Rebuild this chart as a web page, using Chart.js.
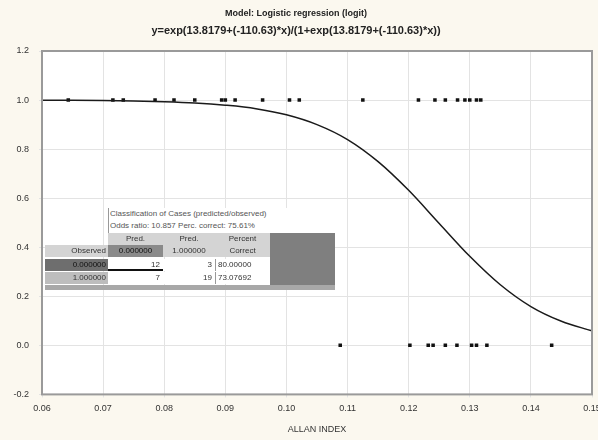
<!DOCTYPE html>
<html>
<head>
<meta charset="utf-8">
<script src="https://cdn.jsdelivr.net/npm/chart.js@4"></script>
<style>
  html, body { margin: 0; padding: 0; background: #fbf8ef; }
  #wrap { position: relative; width: 598px; height: 440px; }
  canvas { position: absolute; left: 0; top: 0; }
  .cls { position: absolute; font-family: "Liberation Sans", Arial, sans-serif; font-size: 8px; color: #333; }
  .cls div { position: absolute; box-sizing: border-box; white-space: nowrap; overflow: hidden; }
</style>
</head>
<body>
<div id="wrap">
  <canvas id="chart" width="598" height="440"></canvas>
  <div class="cls" id="table"></div>
</div>
<script>
// observed cases
const obsOneX = [0.0643, 0.0716, 0.0733, 0.0785, 0.0816, 0.0850, 0.0894, 0.0900, 0.0916, 0.0961,
  0.1005, 0.1021, 0.1125, 0.1216, 0.1243, 0.1260, 0.1280, 0.1292, 0.1300, 0.1311, 0.1318];
const obsZeroX = [0.1088, 0.1202, 0.1232, 0.1240, 0.1260, 0.1279, 0.1303, 0.1311, 0.1328, 0.1434];

// fitted curve
const curveX = [0.060, 0.065, 0.070, 0.075, 0.080, 0.085, 0.090, 0.095, 0.100, 0.105,
  0.110, 0.115, 0.120, 0.125, 0.130, 0.135, 0.140, 0.145, 0.150];
const curveY = [0.999, 0.999, 0.998, 0.996, 0.993, 0.988, 0.979, 0.965, 0.940, 0.900,
  0.839, 0.749, 0.632, 0.497, 0.363, 0.247, 0.158, 0.098, 0.059];

const xTicks = [0.06, 0.07, 0.08, 0.09, 0.10, 0.11, 0.12, 0.13, 0.14, 0.15];
const yTicks = [-0.2, 0.0, 0.2, 0.4, 0.6, 0.8, 1.0, 1.2];

// classification table
const tableTitle = ["Classification of Cases (predicted/observed)", "Odds ratio: 10.857 Perc. correct: 75.61%"];
const tableHead = [["Pred.", "0.000000"], ["Pred.", "1.000000"], ["Percent", "Correct"]];
const rowLabels = ["0.000000", "1.000000"];
const rowCounts = [[12, 3], [7, 19]];
const rowPercent = ["80.00000", "73.07692"];

const plotBg = {
  id: 'plotBg',
  beforeDraw(chart) {
    const { ctx, chartArea: a } = chart;
    ctx.save();
    ctx.fillStyle = '#ffffff';
    ctx.fillRect(a.left, a.top, a.right - a.left, a.bottom - a.top);
    ctx.restore();
  },
  afterDraw(chart) {
    const { ctx, chartArea: a } = chart;
    ctx.save();
    ctx.strokeStyle = '#9a9a9a';
    ctx.lineWidth = 2;
    ctx.strokeRect(a.left, a.top, a.right - a.left, a.bottom - a.top);
    ctx.restore();
  }
};

const font = { family: "'Liberation Sans', Arial, sans-serif", size: 9 };

const chart = new Chart(document.getElementById('chart'), {
  type: 'scatter',
  data: {
    datasets: [{
      type: 'line',
      data: curveX.map((x, i) => ({ x: x, y: curveY[i] })),
      borderColor: '#1a1a1a',
      borderWidth: 1.5,
      pointRadius: 0,
      cubicInterpolationMode: 'monotone',
      fill: false
    }, {
      data: obsOneX.map(x => ({ x: x, y: 1 })),
      pointStyle: 'rect',
      pointRadius: 2.5,
      backgroundColor: '#111',
      borderColor: '#111',
      borderWidth: 0
    }, {
      data: obsZeroX.map(x => ({ x: x, y: 0 })),
      pointStyle: 'rect',
      pointRadius: 2.5,
      backgroundColor: '#111',
      borderColor: '#111',
      borderWidth: 0
    }]
  },
  options: {
    responsive: false,
    animation: false,
    layout: { padding: { left: 0, right: 6, top: 0, bottom: 5 } },
    plugins: {
      legend: { display: false },
      tooltip: { enabled: false },
      title: {
        display: true,
        text: 'Model: Logistic regression (logit)',
        color: '#222',
        font: { family: font.family, size: 9, weight: 'bold', lineHeight: 1.2 },
        padding: { top: 8.6, bottom: 0 }
      },
      subtitle: {
        display: true,
        text: 'y=exp(13.8179+(-110.63)*x)/(1+exp(13.8179+(-110.63)*x))',
        color: '#222',
        font: { family: font.family, size: 11, weight: 'bold', lineHeight: 1.2 },
        padding: { top: 5, bottom: 13.4 }
      }
    },
    scales: {
      x: {
        type: 'linear',
        min: 0.06, max: 0.15,
        afterBuildTicks: s => { s.ticks = xTicks.map(v => ({ value: v })); },
        afterFit: s => { s.paddingLeft = 0; s.paddingRight = 0; },
        ticks: { color: '#333', font: font, padding: 6, maxRotation: 0, callback: v => v.toFixed(2) },
        grid: { color: '#e3e3e3', tickLength: 3, drawTicks: true },
        border: { display: false },
        title: { display: true, text: 'ALLAN INDEX', color: '#333', font: font, padding: { top: 4, bottom: 0 } }
      },
      y: {
        min: -0.2, max: 1.2,
        afterBuildTicks: s => { s.ticks = yTicks.map(v => ({ value: v })); },
        afterFit: s => { s.width = 42; s.paddingTop = 0; s.paddingBottom = 0; },
        ticks: { color: '#333', font: font, padding: 10, callback: v => v.toFixed(1) },
        grid: { color: '#e3e3e3', tickLength: 3 },
        border: { display: false }
      }
    }
  },
  plugins: [plotBg]
});

// classification table overlay
function cell(parent, x, y, w, h, text, css) {
  const d = document.createElement('div');
  d.style.left = x + 'px'; d.style.top = y + 'px';
  d.style.width = w + 'px'; d.style.height = h + 'px';
  d.style.lineHeight = h + 'px';
  Object.assign(d.style, css || {});
  d.textContent = text;
  parent.appendChild(d);
  return d;
}
const t = document.getElementById('table');
cell(t, 108, 208, 227, 25, '', { background: '#ffffff', borderLeft: '1px solid #999' });
cell(t, 110, 208, 225, 12, tableTitle[0], { color: '#555' });
cell(t, 110, 220, 225, 12, tableTitle[1], { color: '#555' });
cell(t, 270, 233, 65, 53, '', { background: '#7f7f7f' });
const colX = [108, 163, 215];
const colW = [55, 52, 55];
tableHead.forEach((h, i) => {
  cell(t, colX[i], 233, colW[i], 12, h[0], { background: '#d4d4d4', textAlign: 'center' });
  cell(t, colX[i], 245, colW[i], 12, h[1], { background: i === 0 ? '#8a8a8a' : '#d4d4d4', textAlign: 'center', color: i === 0 ? '#111' : '#333' });
});
cell(t, 45, 245, 63, 12, 'Observed', { background: '#d4d4d4', textAlign: 'right', paddingRight: '2px' });
rowLabels.forEach((r, i) => {
  const y = 259 + i * 13;
  cell(t, 45, y, 63, 12, r, { background: i === 0 ? '#6e6e6e' : '#bdbdbd', textAlign: 'right', paddingRight: '2px', color: i === 0 ? '#111' : '#333' });
  cell(t, 108, y, 55, 12, rowCounts[i][0], { background: '#fff', textAlign: 'right', paddingRight: '3px', borderBottom: i === 0 ? '2px solid #111' : 'none' });
  cell(t, 163, y, 52, 12, rowCounts[i][1], { background: '#fff', textAlign: 'right', paddingRight: '3px' });
  cell(t, 215, y, 55, 12, rowPercent[i], { background: '#fff', paddingLeft: '2px', borderLeft: '1px solid #999' });
});
cell(t, 45, 285, 290, 5, '', { background: '#a8a8a8' });
</script>
</body>
</html>
